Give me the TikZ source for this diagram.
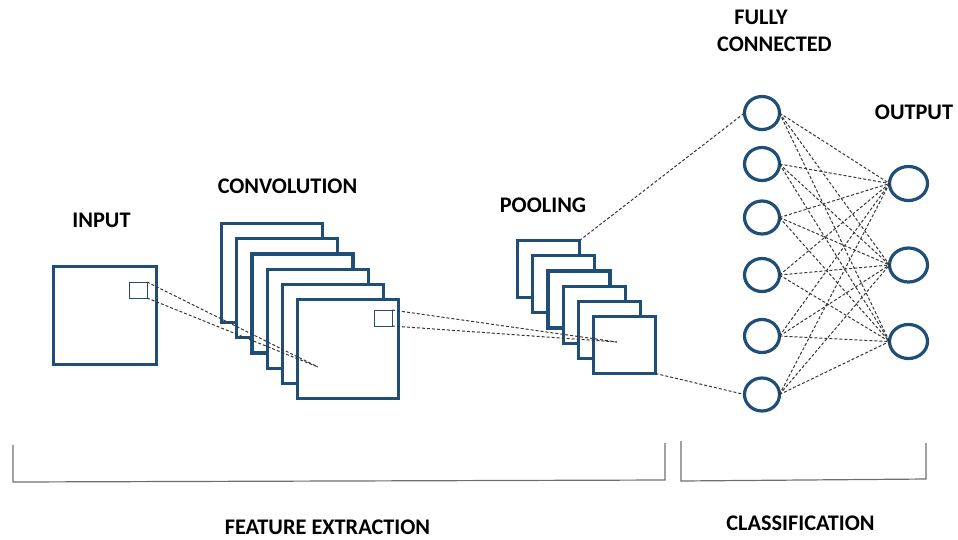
\documentclass[tikz,border=0pt]{standalone}
\usepackage{fontspec}
\setmainfont{Carlito}
\usetikzlibrary{shapes.geometric}
\definecolor{navy}{RGB}{31,78,121}
\definecolor{linkgray}{RGB}{55,55,55}
\definecolor{bracegray}{RGB}{110,110,110}
\tikzset{
  sheet/.style={draw=navy, line width=3.2pt, fill=white, inner sep=0pt, outer sep=0pt},
  window/.style={draw=navy, line width=1pt, inner sep=0pt, outer sep=0pt,
                 minimum width=18, minimum height=16},
  neuron/.style={ellipse, draw=navy, line width=3.2pt, fill=white, inner sep=0pt, outer sep=0pt},
  link/.style={draw=linkgray, line width=1pt, dash pattern=on 3pt off 2pt},
  brace/.style={draw=bracegray, line width=1.2pt},
  caption/.style={font=\bfseries\fontsize{22.3}{22.3}\selectfont, inner sep=0pt, text=black}
}
\begin{document}
\begin{tikzpicture}[x=1pt,y=-1pt]
\useasboundingbox (0,0) rectangle (958,539);

% input image with its receptive window
\node[sheet, minimum width=103, minimum height=98] (in) at (105,315.5) {};
\node[window] (inwin) at (138,290) {};

% convolution feature maps, back to front
\foreach \k in {1,...,6} {
  \pgfmathsetmacro{\dd}{15.2*(6-\k)}
  \node[sheet, minimum width=101, minimum height=99] (conv\k) at (348-\dd,349-\dd) {};
}
\node[window] (convwin) at (383,318) {};

% pooled maps, back to front
\foreach \k in {1,...,6} {
  \pgfmathsetmacro{\dd}{15.2*(6-\k)}
  \node[sheet, minimum width=62, minimum height=57] (pool\k) at (624.5-\dd,345-\dd) {};
}

% fully connected layer
\foreach \k/\yy in {1/113,2/164,3/217.5,4/275,5/336,6/394.5}
  \node[neuron, minimum width=35, minimum height=33] (fc\k) at (762,\yy) {};

% output layer
\foreach \k/\yy in {1/183.5,2/265,3/341.5}
  \node[neuron, minimum width=38, minimum height=34] (out\k) at (908.5,\yy) {};

% projection of the windows
\coordinate (convfocus) at (318,367);
\coordinate (poolfocus) at (617,342);
\draw[link] (inwin.north east) -- (convfocus);
\draw[link] (inwin.south east) -- (convfocus);
\draw[link] (convwin.north east) -- (poolfocus);
\draw[link] (convwin.south east) -- (poolfocus);

% pooled maps into the dense layer
\draw[link] (pool1.north east) -- (fc1.west);
\draw[link] (pool6.south east) -- (fc6.west);

% dense connections
\foreach \i in {1,...,6}
  \foreach \j in {1,2,3}
    \draw[link] (fc\i.east) -- (out\j.west);

% stage brackets
\coordinate (b1) at (13,445);
\coordinate (b2) at (13,482);
\coordinate (b3) at (665,480);
\coordinate (b4) at (665,443);
\draw[brace] (b1) -- (b2) -- (b3) -- (b4);
\coordinate (c1) at (681,441);
\coordinate (c2) at (681,481);
\coordinate (c3) at (926,479);
\coordinate (c4) at (926,443);
\draw[brace] (c1) -- (c2) -- (c3) -- (c4);

% labels
\node[caption] (tin) at (101.5,220) {INPUT};
\node[caption] (tconv) at (287.5,186) {CONVOLUTION};
\node[caption] (tpool) at (543,205) {POOLING};
\node[caption] (tfully) at (761,17) {FULLY};
\node[caption] (tconn) at (774.5,44) {CONNECTED};
\node[caption] (tout) at (914,112) {OUTPUT};
\node[caption] (tfeat) at (327.5,527) {FEATURE EXTRACTION};
\node[caption] (tclass) at (800.5,523) {CLASSIFICATION};
\end{tikzpicture}
\end{document}
